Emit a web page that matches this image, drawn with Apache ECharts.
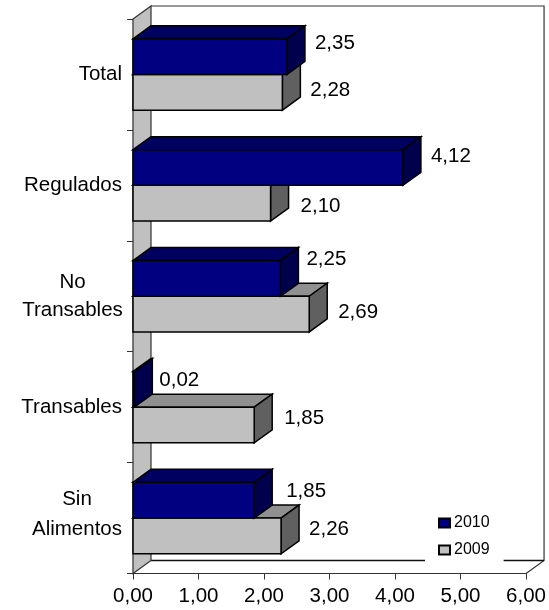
<!DOCTYPE html>
<html><head><meta charset="utf-8">
<style>html,body{margin:0;padding:0;background:#fff}#c{width:549px;height:610px}</style>
<script src="https://cdn.jsdelivr.net/npm/echarts@6/dist/echarts.min.js"></script>
</head><body><div id="c"></div>
<script>
const categories = ['Total','Regulados','No\nTransables','Transables','Sin\nAlimentos'];
const values2010 = [2.35,4.12,2.25,0.02,1.85];
const values2009 = [2.28,2.10,2.69,1.85,2.26];
const xTicks = [0,1,2,3,4,5,6];
const labelNudgeY2010 = [-13,-11,-19,-9,-9];
const labelNudgeY2009 = [-2,3,-2,-7,-7];
const labelNudgeX2010 = [0,0,-2,-3,4];
const labelNudgeX2009 = [0,2,1,2,0];
const DX = 18, DY = -13;
const FONT = '"Liberation Sans", Arial, sans-serif';
const FS = 20.5;
const fmt = v => v.toFixed(2).replace('.', ',');

function bar3d(colors, seriesOffset, nudgeY, nudgeX) {
  return function (params, api) {
    const x0 = api.coord([0, api.value(1)]);
    const x1 = api.coord([api.value(0), api.value(1)]);
    const h = api.size([0, 1])[1] * 0.322;
    const top = x0[1] + seriesOffset * h, bot = top + h;
    const L = x0[0], R = x1[0];
    const ln = {stroke:'#000', lineWidth:1.5, lineJoin:'miter'};
    return {type:'group', children:[
      {type:'polygon', shape:{points:[[L,top],[L+DX,top+DY],[R+DX,top+DY],[R,top]]}, style:{fill:colors[1],...ln}},
      {type:'polygon', shape:{points:[[R,top],[R+DX,top+DY],[R+DX,bot+DY],[R,bot]]}, style:{fill:colors[2],...ln}},
      {type:'rect', shape:{x:L,y:top,width:R-L,height:h}, style:{fill:colors[0],...ln}},
      {type:'text', style:{x:R+DX+10+nudgeX[params.dataIndex], y:(top+bot)/2+nudgeY[params.dataIndex], text:fmt(api.value(0)),
        font:FS+'px '+FONT, fill:'#000', textVerticalAlign:'middle', textAlign:'left'}}
    ]};
  };
}
function walls(params) {
  const c = params.coordSys;
  const l=c.x, r=c.x+c.width, t=c.y, b=c.y+c.height;
  const ln = {stroke:'#333', lineWidth:1.2};
  return {type:'group', silent:true, children:[
    {type:'polyline', shape:{points:[[l+DX,t+DY],[r+DX,t+DY],[r+DX,b+DY],[r,b]]}, style:{fill:null,...ln}},
    {type:'line', shape:{x1:l+DX,y1:b+DY,x2:r+DX,y2:b+DY}, style:{stroke:'#111',lineWidth:1.4}},
    {type:'polygon', shape:{points:[[l,t],[l+DX,t+DY],[l+DX,b+DY],[l,b]]}, style:{fill:'#c0c0c0',...ln}}
  ]};
}
const toData = arr => arr.map((v,i)=>[v,i]);
const chart = echarts.init(document.getElementById('c'), null, {renderer:'canvas'});
chart.setOption({
  animation:false,
  backgroundColor:'#fff',
  grid:{left:133, right:22, top:19, bottom:36.5},
  xAxis:{type:'value', min:0, max:6, interval:1, splitLine:{show:false},
    axisLine:{show:true,lineStyle:{color:'#333',width:1.2}},
    axisTick:{show:true,length:6,lineStyle:{color:'#333'}},
    axisLabel:{color:'#000',fontFamily:FONT,fontSize:FS,margin:12,showMinLabel:true,showMaxLabel:true,
      hideOverlap:false,formatter:v=>fmt(v)}},
  yAxis:{type:'category', inverse:true, data:categories,
    axisLine:{show:true,lineStyle:{color:'#333',width:1.2}},
    axisTick:{show:true,length:6,alignWithLabel:false,lineStyle:{color:'#333'}},
    axisLabel:{color:'#000',fontFamily:FONT,fontSize:FS,margin:11,interval:0,
      formatter:v=>{
        if(v.indexOf('\n')<0) return v;
        const p=v.split('\n');
        const k = v.indexOf('Alimentos')>=0 ? 'd' : 'c';
        return p.map(s=>'{'+k+'|'+s+'}').join('\n');
      },
      rich:{
        c:{width:99,align:'center',fontFamily:FONT,fontSize:FS,color:'#000',lineHeight:28},
        d:{width:90,align:'center',fontFamily:FONT,fontSize:FS,color:'#000',lineHeight:30,padding:[0,0,8,0]}
      }}},
  legend:{show:true, data:['2010','2009'], orient:'vertical', left:425, top:509, padding:[6,14,8,13],
    itemWidth:11,itemHeight:9,itemGap:11,icon:'rect',backgroundColor:'#fff',
    textStyle:{fontFamily:FONT,fontSize:16,color:'#000',padding:[0,0,0,-1]}},
  series:[
    {type:'custom', name:'walls', coordinateSystem:'cartesian2d', data:[[0,0]], renderItem:walls, z:1, silent:true},
    {type:'custom', name:'2009', coordinateSystem:'cartesian2d', data:toData(values2009), z:2,
      itemStyle:{color:'#c0c0c0',borderColor:'#000',borderWidth:1.2},
      encode:{x:0,y:1}, renderItem:bar3d(['#c0c0c0','#909090','#606060'],0,labelNudgeY2009,labelNudgeX2009)},
    {type:'custom', name:'2010', coordinateSystem:'cartesian2d', data:toData(values2010), z:3,
      itemStyle:{color:'#000080',borderColor:'#000',borderWidth:1.2},
      encode:{x:0,y:1}, renderItem:bar3d(['#000080','#000060','#00004d'],-1,labelNudgeY2010,labelNudgeX2010)}
  ]
});
</script></body></html>
